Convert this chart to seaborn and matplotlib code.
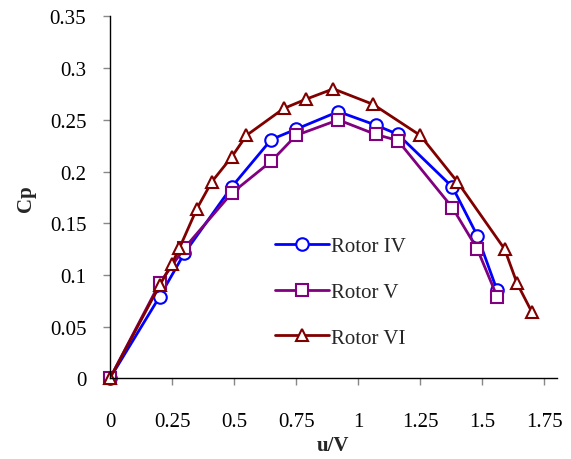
import matplotlib
matplotlib.use("Agg")
import matplotlib.pyplot as plt
import seaborn as sns
import pandas as pd

sns.set_style("ticks")
plt.rcParams['font.family'] = ['Liberation Serif', 'DejaVu Serif']

u_iv = [0, 0.20, 0.30, 0.49, 0.65, 0.75, 0.92, 1.07, 1.16, 1.38, 1.48, 1.56]
cp_iv = [0, 0.079, 0.121, 0.185, 0.231, 0.241, 0.258, 0.245, 0.236, 0.185, 0.138, 0.085]

u_v = [0, 0.20, 0.30, 0.49, 0.65, 0.75, 0.92, 1.07, 1.16, 1.38, 1.48, 1.56]
cp_v = [0, 0.092, 0.126, 0.179, 0.210, 0.235, 0.250, 0.236, 0.230, 0.165, 0.125, 0.079]

u_vi = [0, 0.20, 0.25, 0.28, 0.35, 0.41, 0.49, 0.55, 0.70, 0.79, 0.90, 1.06, 1.25, 1.40, 1.59, 1.64, 1.70]
cp_vi = [0, 0.090, 0.111, 0.126, 0.164, 0.190, 0.214, 0.235, 0.261, 0.270, 0.280, 0.265, 0.235, 0.190, 0.125, 0.092, 0.064]

labels = ["Rotor IV", "Rotor V", "Rotor VI"]
colors = ["#0000FF", "#800080", "#800000"]
markers = ["o", "s", "^"]
xticks = [0, 0.25, 0.5, 0.75, 1, 1.25, 1.5, 1.75]
xticklabels = ["0", "0.25", "0.5", "0.75", "1", "1.25", "1.5", "1.75"]
yticks = [0, 0.05, 0.1, 0.15, 0.2, 0.25, 0.3, 0.35]
yticklabels = ["0", "0.05", "0.1", "0.15", "0.2", "0.25", "0.3", "0.35"]

fig = plt.figure(figsize=(5.71, 4.6), dpi=100)
ax = fig.add_axes([0.1926, 0.1754, 0.975 - 0.1926, 0.962 - 0.1754])

for (u, cp), lab, c, m in zip([(u_iv, cp_iv), (u_v, cp_v), (u_vi, cp_vi)], labels, colors, markers):
    df = pd.DataFrame({"u": u, "cp": cp})
    sns.lineplot(data=df, x="u", y="cp", ax=ax, sort=False, color=c, lw=2,
                 marker=m, markersize=9 if m != "s" else 8.5, markerfacecolor="white",
                 markeredgecolor=c, markeredgewidth=1.5, label=lab, clip_on=False)

ax.set_xlim(0, 1.8)
ax.set_ylim(0, 0.35)
ax.set_xticks(xticks)
ax.set_xticklabels(xticklabels)
ax.set_yticks(yticks)
ax.set_yticklabels(yticklabels)
ax.tick_params(direction="out", length=5, width=1, labelsize=15, color="#888888",
               labelcolor="black")
ax.tick_params(axis="x", pad=19)
ax.tick_params(axis="y", pad=12)
for s in ["top", "right"]:
    ax.spines[s].set_visible(False)
for s in ["left", "bottom"]:
    ax.spines[s].set_color("black")
    ax.spines[s].set_linewidth(1)
ax.set_xlabel("u/V", fontsize=15, fontweight="bold", labelpad=3)
ax.set_ylabel("Cp", fontsize=15, fontweight="bold", labelpad=10)

ax.legend(loc="center left", bbox_to_anchor=(0.369, 0.238), frameon=False, fontsize=15,
          labelspacing=1.25, handlelength=2.6, handletextpad=0.1, borderaxespad=0,
          borderpad=0)

fig.savefig("out.png", dpi=100)
